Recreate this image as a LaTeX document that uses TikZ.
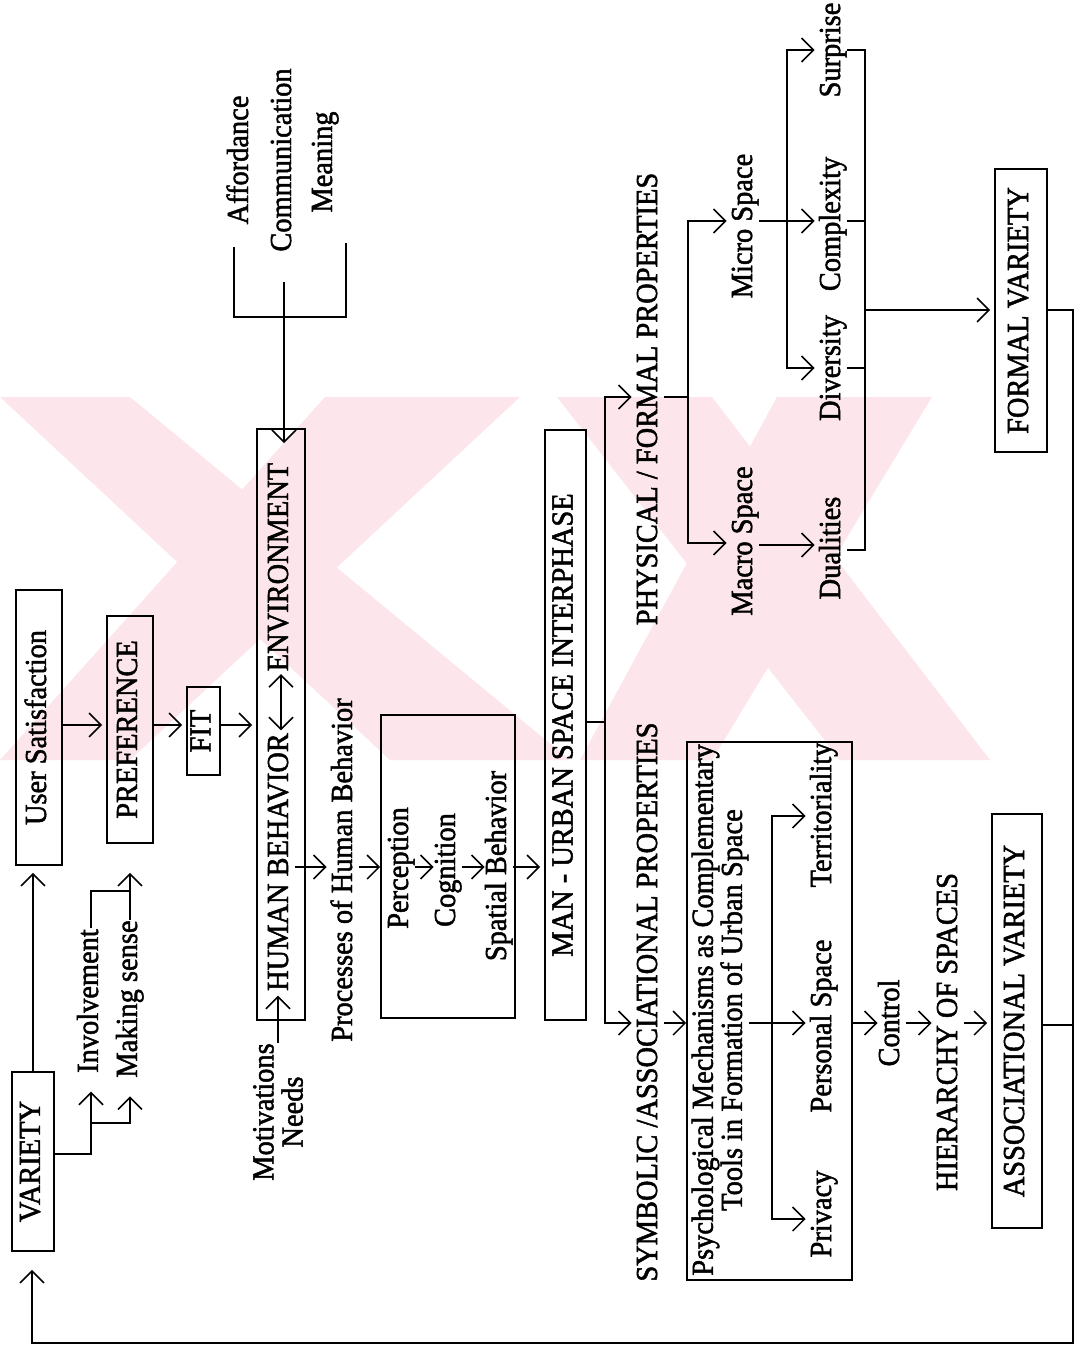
\documentclass[tikz,border=0pt]{standalone}
\usepackage{fontspec}
\setmainfont{Liberation Serif}[FakeStretch=0.93, FakeBold=1.6]
\usetikzlibrary{arrows.meta}
\definecolor{wmark}{RGB}{252,230,236}
\begin{document}
\begin{tikzpicture}[x=0.02cm, y=-0.02cm,
  line width=0.9pt,
  every node/.style={font=\fontsize{17.4pt}{16.6pt}\selectfont},
  lbl/.style={rotate=90, inner sep=0pt, text height=0.41cm, text depth=0.13cm},
  lbltwo/.style={rotate=90, inner sep=0pt, align=center},
  bx/.style={draw, rotate=90, inner sep=0pt, text height=0.41cm, text depth=0.13cm},
  tip/.style={-{Straight Barb[length=0.24cm,width=0.48cm]}, shorten >=0.08cm},
  dtip/.style={{Straight Barb[length=0.24cm,width=0.48cm]}-{Straight Barb[length=0.24cm,width=0.48cm]}},
]
\fill[white] (0,0) rectangle (1076,1346);
\useasboundingbox (0,0) rectangle (1076,1346);

% background mark
\begin{scope}
\clip (0,397) rectangle (1000,760);
\fill[wmark] (0,397) -- (130,397) -- (570,760) -- (390,760) -- cycle;
\fill[wmark] (325,397) -- (520,397) -- (130,760) -- (0,760) -- cycle;
\fill[wmark] (557,397) -- (712,397) -- (990,760) -- (840,760) -- cycle;
\fill[wmark] (777,397) -- (932,397) -- (712,760) -- (580,760) -- cycle;
\end{scope}

% boxes
\node[bx, minimum width=3.58cm, minimum height=0.84cm] (var) at (33,1161.5) {VARIETY};
\node[bx, minimum width=5.5cm, minimum height=0.92cm] (us) at (39,727.5) {User Satisfaction};
\node[bx, minimum width=4.54cm, minimum height=0.92cm] (pref) at (130,729.5) {PREFERENCE};
\node[bx, minimum width=1.76cm, minimum height=0.66cm] (fit) at (203.5,731) {FIT};
\node[bx, minimum width=11.82cm, minimum height=0.96cm] (hbbox) at (281,724.5) {};
\node[bx, minimum width=6.06cm, minimum height=2.68cm] (pcsbox) at (448,866.5) {};
\node[bx, minimum width=11.8cm, minimum height=0.82cm] (man) at (565.5,725) {MAN - URBAN SPACE INTERPHASE};
\node[bx, minimum width=10.76cm, minimum height=3.3cm] (psybox) at (769.5,1011) {};
\node[bx, minimum width=5.66cm, minimum height=1.04cm] (fv) at (1021,310.5) {FORMAL VARIETY};
\node[bx, minimum width=8.28cm, minimum height=1.0cm] (av) at (1017,1021) {ASSOCIATIONAL VARIETY};

% labels
\node[lbl] (inv) at (91,1001) {Involvement};
\node[lbl] (mks) at (130,999) {Making sense};
\node[lbltwo] (mot) at (278,1112) {Motivations\\Needs};
\node[lbl] (hbt) at (281,862) {HUMAN BEHAVIOR};
\node[lbl] (env) at (281,567) {ENVIRONMENT};
\node[lbl] (aff) at (241,160) {Affordance};
\node[lbl] (com) at (284,160) {Communication};
\node[lbl] (mea) at (325,162) {Meaning};
\node[lbl] (proc) at (345,870) {Processes of Human Behavior};
\node[lbl] (per) at (401,868) {Perception};
\node[lbl] (cog) at (448,870) {Cognition};
\node[lbl] (spb) at (499,866) {Spatial Behavior};
\node[lbl] (phy) at (650,399) {PHYSICAL / FORMAL PROPERTIES};
\node[lbl] (sym) at (650,1002) {SYMBOLIC /ASSOCIATIONAL PROPERTIES};
\node[lbl] (mic) at (745,226) {Micro Space};
\node[lbl] (mac) at (745,541) {Macro Space};
\node[lbl] (sur) at (833,50) {Surprise};
\node[lbl] (cpx) at (833,224) {Complexity};
\node[lbl] (div) at (833,368) {Diversity};
\node[lbl] (dua) at (833,548) {Dualities};
\node[lbltwo] (psyt) at (720,1010) {Psychological Mechanisms as Complementary\\Tools in Formation of Urban Space};
\node[lbl] (ter) at (824,815) {Territoriality};
\node[lbl] (pers) at (824,1026) {Personal Space};
\node[lbl] (pri) at (824,1214) {Privacy};
\node[lbl] (ctl) at (892,1023) {Control};
\node[lbl] (hier) at (950,1032) {HIERARCHY OF SPACES};

% junction points
\coordinate (split) at (605,722);
\coordinate (pj) at (688,397);
\coordinate (mj) at (787,221);
\coordinate (rbt) at (865,50);
\coordinate (rbb) at (865,550);
\coordinate (pj2) at (772,1023);
\coordinate (re1) at (1073,310);
\coordinate (re2) at (1073,1343);
\coordinate (lb) at (32,1343);
\coordinate (envin) at (284,443);
\coordinate (bk1) at (234,247);
\coordinate (bk2) at (234,317);
\coordinate (bk3) at (346,317);
\coordinate (bk4) at (346,243);

% upper chain
\draw[tip, shorten >=0.14cm] (var.east) -- (var.east |- us.west);
\draw[tip, shorten >=0.36cm] (var.south |- 0,1154) -| (inv.west);
\draw[tip, shorten >=0.36cm] (inv.center |- 0,1123) -| (mks.west);
\draw (inv.east) |- (mks.east |- 0,891);
\draw[tip, shorten >=0.58cm] (mks.east) -- (mks.east |- pref.west);
\draw[tip] (us.south |- 0,725) -- (pref.north |- 0,725);
\draw[tip] (pref.south |- 0,725) -- (fit.north |- 0,725);
\draw[tip] (fit.south |- 0,725) -- (hbbox.north |- 0,725);
\draw[tip] (mot.east) -- (mot.east |- hbt.west);
\draw[dtip, shorten >=0.04cm, shorten <=0.04cm] (hbt.east) -- (env.west);
\draw (bk1) -- (bk2) -- (bk3) -- (bk4);
\draw[tip, shorten >=0pt] (com.west |- 0,282) -- (envin);

% processes
\draw[tip] (hbt.south |- 0,867) -- (proc.north |- 0,867);
\draw[tip, shorten >=0pt] (proc.south |- 0,867) -- (pcsbox.north |- 0,867);
\draw[tip, shorten >=0pt] (per.south |- 0,867) -- (cog.north |- 0,867);
\draw[tip, shorten >=0pt] (cog.south |- 0,867) -- (spb.north |- 0,867);
\draw[tip] (spb.south |- 0,867) -- (man.north |- 0,867);

% split
\draw (man.south |- split) -- (split);
\draw[tip] (split) |- (phy.north |- pj);
\draw[tip] (split) |- (sym.north |- pj2);

% physical / formal branch
\draw (phy.south |- pj) -- (pj);
\draw[tip] (pj) |- (mic.north |- mj);
\draw[tip] (pj) |- (mac.north |- 0,543);
\draw[tip] (mic.south |- mj) -- (cpx.north |- mj);
\draw[tip] (mj) |- (sur.north |- rbt);
\draw[tip] (mj) |- (div.north |- 0,368);
\draw[tip] (mac.south |- 0,545) -- (dua.north |- 0,545);
\draw (sur.south |- rbt) -- (rbt) -- (rbb) -- (dua.south |- rbb);
\draw (cpx.south |- mj) -- (rbt |- mj);
\draw (div.south |- 0,368) -- (rbt |- 0,368);
\draw[tip] (rbt |- re1) -- (fv.north |- re1);

% symbolic / associational branch
\draw[tip, shorten >=0pt] (sym.south |- pj2) -- (psybox.north |- pj2);
\draw[tip] (psyt.south |- pj2) -- (pers.north |- pj2);
\draw[tip] (pj2) |- (ter.north |- 0,816);
\draw[tip] (pj2) |- (pri.north |- 0,1219);
\draw[tip, shorten >=0pt] (psybox.south |- pj2) -- (ctl.north |- pj2);
\draw[tip] (ctl.south |- pj2) -- (hier.north |- pj2);
\draw[tip] (hier.south |- pj2) -- (av.north |- pj2);

% feedback loop
\draw (av.south |- 0,1025) -- (re1 |- 0,1025);
\draw[tip, shorten >=0.36cm] (fv.south |- re1) -- (re1) -- (re2) -- (lb) -- (lb |- var.west);
\end{tikzpicture}
\end{document}
